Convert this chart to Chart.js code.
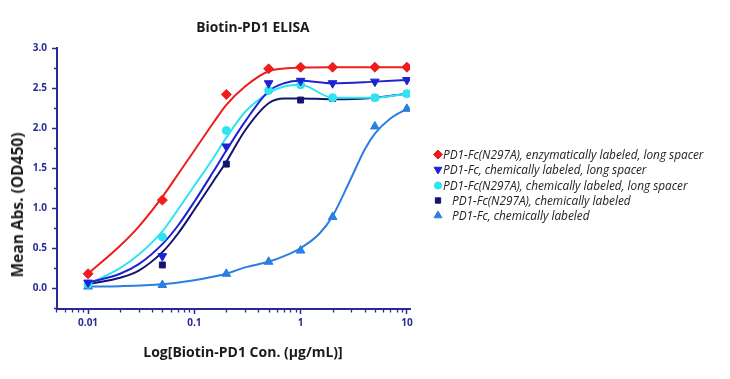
<!DOCTYPE html>
<html><head><meta charset="utf-8">
<script src="https://cdn.jsdelivr.net/npm/chart.js@4.4.0/dist/chart.umd.min.js"></script>
<style>
html,body{margin:0;padding:0;background:#fff;}
#wrap{position:relative;width:730px;height:379px;overflow:hidden;font-family:"Open Sans",sans-serif;}
#c{position:absolute;left:0;top:0;}
.ttl{position:absolute;font-weight:700;color:#1a1a1a;white-space:nowrap;transform:translate(-50%,-50%);}
#legend{position:absolute;left:433px;top:147px;font-style:italic;font-size:11.8px;color:#222;}
.item{height:15.3px;line-height:15.3px;white-space:pre;display:flex;align-items:center;}
.item canvas{flex:none;}
</style></head>
<body>
<div id="wrap">
  <canvas id="c" width="730" height="379"></canvas>
  <div class="ttl" id="t1" style="left:253px;top:26px;font-size:13.8px;">Biotin-PD1 ELISA</div>
  <div class="ttl" id="t2" style="left:17px;top:205px;font-size:15.5px;transform:translate(-50%,-50%) rotate(-90deg);">Mean Abs. (OD450)</div>
  <div class="ttl" id="t3" style="left:243px;top:351px;font-size:14px;">Log[Biotin-PD1 Con. (μg/mL)]</div>
  <div id="legend"></div>
</div>
<script>
// ---- data ----
const conc = [0.01, 0.05, 0.2, 0.5, 1, 2, 5, 10];
const enzLong       = [0.18, 1.10, 2.42, 2.74, 2.76, 2.76, 2.76, 2.76];
const fcChemLong    = [0.07, 0.40, 1.77, 2.56, 2.59, 2.56, 2.58, 2.60];
const n297aChemLong = [0.05, 0.64, 1.97, 2.47, 2.54, 2.38, 2.38, 2.43];
const n297aChem     = [0.05, 0.29, 1.55, null, 2.35, 2.37, 2.38, 2.43];
const fcChem        = [0.02, 0.04, 0.18, 0.33, 0.47, 0.89, 2.02, 2.24];

const fitConc          = [0.01, 0.02, 0.03, 0.05, 0.07, 0.1, 0.15, 0.2, 0.3, 0.5, 0.7, 1, 2, 5, 10];
const enzLongFit       = [0.18, 0.53, 0.77, 1.14, 1.42, 1.72, 2.06, 2.29, 2.52, 2.71, 2.745, 2.755, 2.76, 2.76, 2.76];
const fcChemLongFit    = [0.07, 0.18, 0.30, 0.55, 0.78, 1.08, 1.45, 1.72, 2.08, 2.46, 2.56, 2.59, 2.56, 2.58, 2.60];
const n297aChemLongFit = [0.05, 0.25, 0.42, 0.71, 0.98, 1.28, 1.62, 1.88, 2.20, 2.44, 2.52, 2.54, 2.38, 2.38, 2.43];
const n297aChemFit     = [0.05, 0.13, 0.22, 0.45, 0.68, 0.98, 1.33, 1.58, 1.97, 2.31, 2.37, 2.37, 2.36, 2.38, 2.43];
const fcChemFitConc    = [0.01, 0.02, 0.05, 0.1, 0.2, 0.3, 0.5, 0.7, 1, 1.5, 2, 3, 4, 5, 7, 10];
const fcChemFit        = [0.02, 0.025, 0.05, 0.10, 0.18, 0.26, 0.33, 0.40, 0.50, 0.68, 0.90, 1.38, 1.73, 1.93, 2.12, 2.24];

const seriesLabels = [
  'PD1-Fc(N297A), enzymatically labeled, long spacer',
  'PD1-Fc, chemically labeled, long spacer',
  'PD1-Fc(N297A), chemically labeled, long spacer',
  'PD1-Fc(N297A), chemically labeled',
  'PD1-Fc, chemically labeled'
];
const xTicks = [0.01, 0.1, 1, 10];
const xTickLabels = ['0.01', '0.1', '1', '10'];
const yTicks = [0, 0.5, 1, 1.5, 2, 2.5, 3];
const yTickLabels = ['0.0', '0.5', '1.0', '1.5', '2.0', '2.5', '3.0'];

// ---- styles ----
const colors = ['#ee1d1d', '#1f22d4', '#2fe3f0', '#14146e', '#2a7fe0'];
const pStyles = ['rectRot', 'triangle', 'circle', 'rect', 'triangle'];
const pRot = [0, 180, 0, 0, 0];
const pRad = [5, 5, 4, 4.2, 5];
const legendIndent = [0, 0, 0, 9, 9];
const navy = '#2a2a94';

const pointSets = [enzLong, fcChemLong, n297aChemLong, n297aChem, fcChem];
const fitSets = [
  [fitConc, enzLongFit], [fitConc, fcChemLongFit], [fitConc, n297aChemLongFit],
  [fitConc, n297aChemFit], [fcChemFitConc, fcChemFit]
];

const datasets = [];
pointSets.forEach((arr, i) => {
  datasets.push({
    label: seriesLabels[i],
    data: conc.map((x, k) => ({x: x, y: arr[k]})).filter(p => p.y !== null),
    showLine: false,
    pointStyle: pStyles[i], rotation: pRot[i], pointRadius: pRad[i],
    backgroundColor: colors[i], borderColor: colors[i], borderWidth: 1,
    order: 0
  });
});
fitSets.forEach((f, i) => {
  datasets.push({
    label: seriesLabels[i] + ' fit',
    data: f[0].map((x, k) => ({x: x, y: f[1][k]})),
    showLine: true, pointRadius: 0,
    borderColor: colors[i], borderWidth: 2,
    cubicInterpolationMode: 'monotone', fill: false,
    order: 1
  });
});

const xMinor = [];
[0.001, 0.01, 0.1, 1].forEach(d => { for (let m = 2; m <= 9; m++) xMinor.push(m * d); });
const yMinor = [-0.25, 0.25, 0.75, 1.25, 1.75, 2.25, 2.75];

const minorTicks = {
  id: 'minorTicks',
  afterDraw(chart) {
    const {ctx, scales: {x, y}, chartArea: a} = chart;
    ctx.save();
    ctx.strokeStyle = navy; ctx.lineWidth = 1.3;
    ctx.beginPath();
    xMinor.forEach(v => {
      if (v < x.min * 0.98 || v > x.max) return;
      const px = Math.round(x.getPixelForValue(v)) + 0.5;
      ctx.moveTo(px, a.bottom); ctx.lineTo(px, a.bottom + 3.5);
    });
    yMinor.forEach(v => {
      if (v < y.min || v > y.max) return;
      const py = Math.round(y.getPixelForValue(v)) + 0.5;
      ctx.moveTo(a.left, py); ctx.lineTo(a.left - 3, py);
    });
    ctx.stroke();
    ctx.restore();
  }
};

const tickFont = {family: '"Open Sans", sans-serif', size: 10, weight: 'bold'};

new Chart(document.getElementById('c'), {
  type: 'scatter',
  data: {datasets},
  options: {
    responsive: false, animation: false, devicePixelRatio: 1,
    layout: {padding: {left: 27, right: 320, top: 48, bottom: 15}},
    plugins: {legend: {display: false}, title: {display: false}, tooltip: {enabled: false}},
    scales: {
      x: {
        type: 'logarithmic', min: 0.0051, max: 10.7, position: 'bottom',
        afterBuildTicks: s => { s.ticks = xTicks.map(v => ({value: v})); },
        afterFit: s => { s.height = 55; },
        ticks: {callback: (v, i) => xTickLabels[i], color: navy, font: tickFont, padding: 3, autoSkip: false, maxRotation: 0},
        grid: {drawOnChartArea: false, drawTicks: true, tickLength: 5, tickColor: navy, tickWidth: 1.5},
        border: {color: navy, width: 2}
      },
      y: {
        type: 'linear', min: -0.26, max: 3.0,
        afterBuildTicks: s => { s.ticks = yTicks.map(v => ({value: v})); },
        afterFit: s => { s.width = 30; },
        ticks: {callback: (v, i) => yTickLabels[i], color: navy, font: tickFont, padding: 5, autoSkip: false},
        grid: {drawOnChartArea: false, drawTicks: true, tickLength: 5, tickColor: navy, tickWidth: 1.5},
        border: {color: navy, width: 2}
      }
    }
  },
  plugins: [minorTicks]
});

// ---- legend (markers drawn with Chart.js point helper) ----
const leg = document.getElementById('legend');
seriesLabels.forEach((lab, i) => {
  const row = document.createElement('div');
  row.className = 'item';
  const cv = document.createElement('canvas');
  cv.width = 10 + legendIndent[i]; cv.height = 15;
  const cx = cv.getContext('2d');
  cx.fillStyle = colors[i]; cx.strokeStyle = colors[i]; cx.lineWidth = 1;
  const opts = {pointStyle: pStyles[i], rotation: pRot[i], radius: pRad[i] * 0.9, borderWidth: 1};
  if (Chart.helpers && Chart.helpers.drawPoint) {
    Chart.helpers.drawPoint(cx, opts, 5, 7.5);
  }
  row.appendChild(cv);
  const sp = document.createElement('span');
  sp.textContent = lab;
  row.appendChild(sp);
  leg.appendChild(row);
});
</script>
</body></html>
